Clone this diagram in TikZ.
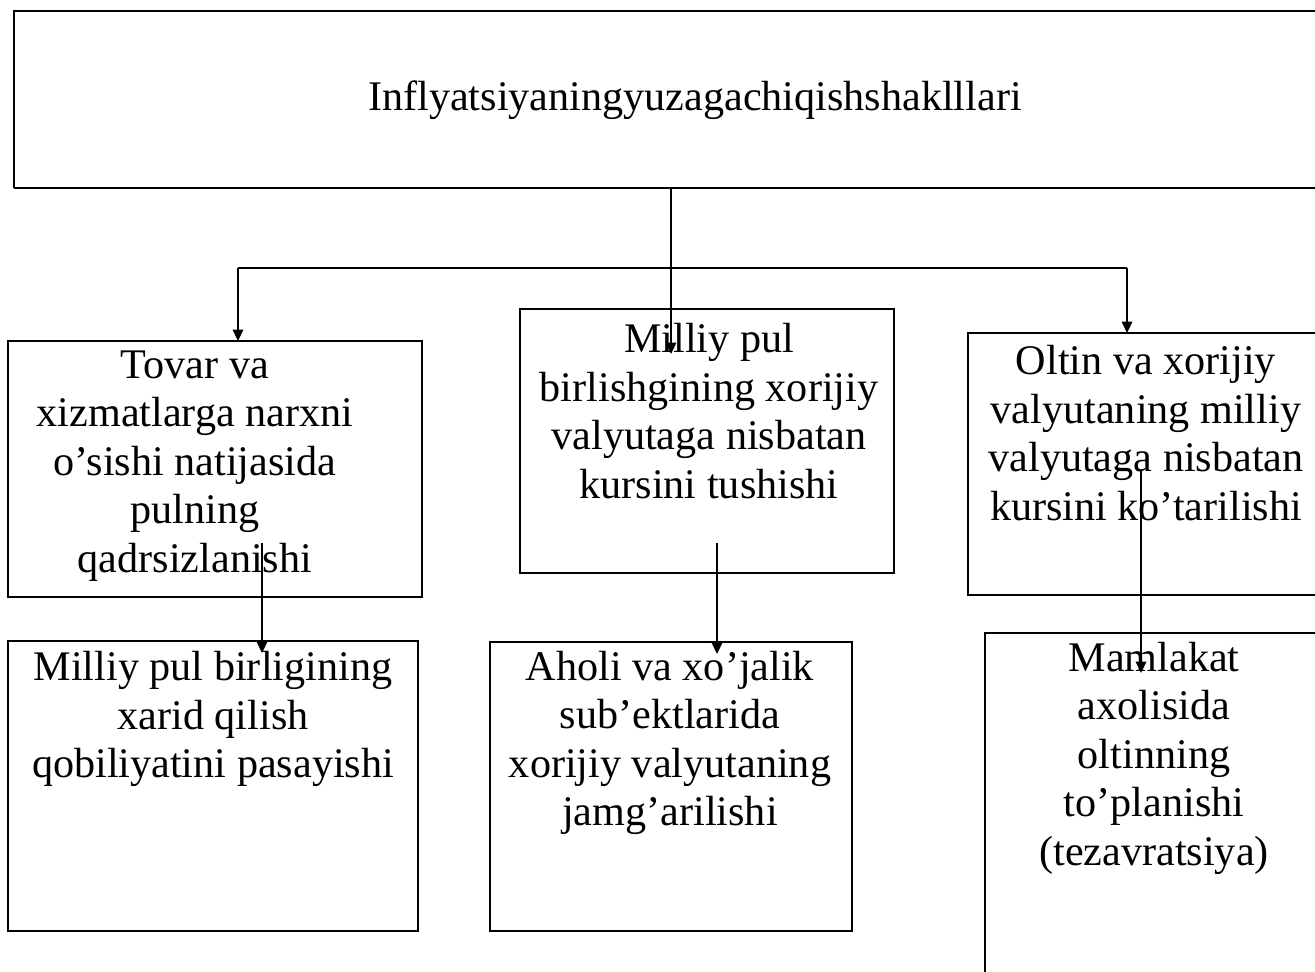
\documentclass[tikz,border=0pt]{standalone}
\usepackage{fontspec}
\setmainfont{Liberation Serif}
\usepackage{tikz}
\usetikzlibrary{arrows.meta}

\begin{document}
\begin{tikzpicture}
\useasboundingbox (0, 0) rectangle (26.3, -19.44);
\clip (0, 0) rectangle (26.3, -19.44);

\begin{scope}[every node/.style={draw, line width=1.1pt, inner sep=0pt, outer sep=0pt}]
  \node[draw=none, minimum width=26.52cm, minimum height=3.54cm] (title) at (13.54, -1.99) {};
  \node[minimum width=8.28cm, minimum height=5.12cm] (tovar) at (4.30, -9.38) {};
  \node[minimum width=7.48cm, minimum height=5.28cm] (milliy) at (14.14, -8.82) {};
  \node[minimum width=7.44cm, minimum height=5.24cm] (oltin) at (23.08, -9.28) {};
  \node[minimum width=8.20cm, minimum height=5.80cm] (xarid) at (4.26, -15.72) {};
  \node[minimum width=7.24cm, minimum height=5.78cm] (aholi) at (13.42, -15.73) {};
  \node[minimum width=7.10cm, minimum height=7.34cm] (mamlakat) at (23.25, -16.33) {};
\end{scope}

\begin{scope}
  \draw[line width=1.1pt] (title.south west) |- (title.north east);
  \draw[line width=0.6pt] (title.south west) -- (title.south east);
  \draw[line width=1.1pt] (title.south west) -- ++(0.4, 0);
\end{scope}

\begin{scope}[every node/.style={align=center, font=\fontsize{24}{27.6}\selectfont}]
  \node (title-t) at (13.90, -2.0) {Inflyatsiyaningyuzagachiqishshaklllari};
  \node (tovar-t) at (3.90, -9.32) {Tovar va\\xizmatlarga narxni\\o’sishi natijasida\\pulning\\qadrsizlanishi};
  \node (milliy-t) at (14.18, -8.22) {Milliy pul\\birlishgining xorijiy\\valyutaga nisbatan\\kursini tushishi};
  \node (oltin-t) at (22.92, -8.66) {Oltin va xorijiy\\valyutaning milliy\\valyutaga nisbatan\\kursini ko’tarilishi};
  \node (xarid-t) at (4.26, -14.38) {Milliy pul birligining\\xarid qilish\\qobiliyatini pasayishi};
  \node (aholi-t) at (13.40, -14.86) {Aholi va xo’jalik\\sub’ektlarida\\xorijiy valyutaning\\jamg’arilishi};
  \node (mamlakat-t) at (23.08, -15.16) {Mamlakat\\axolisida\\oltinning\\to’planishi\\(tezavratsiya)};
\end{scope}

\coordinate (hub-l) at (4.76, -5.36);
\coordinate (hub-r) at (22.54, -5.36);
\coordinate (stem-end) at (13.42, -7.08);
\coordinate (tovar-out) at (5.24, -10.86);
\coordinate (milliy-out) at (14.34, -10.86);
\coordinate (oltin-out) at (22.82, -9.40);

\begin{scope}[>={Triangle[width=6pt, length=6.5pt]},
              every edge/.style={draw, line width=1pt}]
    \path [->] (title.south -| stem-end) edge (stem-end);
    \path (hub-l) edge (hub-r);
    \path [->] (hub-l) edge (hub-l |- tovar.north);
    \path [->] (hub-r) edge (hub-r |- oltin.north);
    \path [->] (tovar-out) edge ([yshift=-0.24cm]tovar-out |- xarid.north);
    \path [->] (milliy-out) edge ([yshift=-0.24cm]milliy-out |- aholi.north);
    \path [->] (oltin-out) edge ([yshift=-0.8cm]oltin-out |- mamlakat.north);
\end{scope}
\end{tikzpicture}
\end{document}
